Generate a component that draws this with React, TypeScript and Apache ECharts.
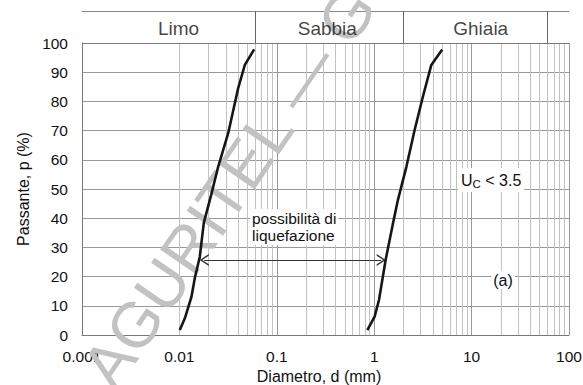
import React, { useEffect, useRef } from 'react';
import * as echarts from 'echarts';

const FONT = '"Liberation Sans", Arial, Helvetica, sans-serif';

// Axis ticks
const decades = [0.001, 0.01, 0.1, 1, 10, 100];
const xTickLabels = ['0.001', '0.01', '0.1', '1', '10', '100'];
const minorSteps = [2, 3, 4, 5, 6, 7, 8, 9];

// Grading curves: diameter (mm) vs passing (%)
const fineD = [0.0101, 0.0114, 0.0133, 0.0144, 0.0162, 0.0178, 0.0212, 0.025, 0.0317, 0.0401, 0.047, 0.0585];
const fineP = [1.7, 5.8, 13.1, 19.5, 26.8, 38.4, 48.0, 57.6, 69.1, 84.5, 92.5, 97.8];
const coarseD = [0.85, 1.01, 1.12, 1.31, 1.56, 1.75, 2.14, 2.6, 3.16, 3.86, 5.0];
const coarseP = [1.7, 6.3, 12.0, 25.7, 38.3, 46.2, 57.6, 70.2, 81.6, 92.5, 97.8];

// Soil-class band
const bandBounds = [0.002, 0.06, 2, 60];
const bandNames = ['Limo', 'Sabbia', 'Ghiaia'];
const bandLabelD = [0.0098, 0.33, 12.4];

// Arrow
const arrowD = [0.018, 1.18];
const arrowP = 25.7;

const noteLiq = 'possibilità di\nliquefazione';
const noteA = '(a)';
const watermark = 'AGURITEL — G';

const chevron = 'path://M6,0 L12,10 L10.2,10 L6,2.8 L1.8,10 L0,10 Z';

export default function App() {
  const ref = useRef<HTMLDivElement>(null);
  useEffect(() => {
    const chart = echarts.init(ref.current!, null, { renderer: 'svg' });
    const minorLines: any[] = [];
    decades.slice(0, -1).forEach((d) =>
      minorSteps.forEach((s) => minorLines.push({ xAxis: Number((d * s).toPrecision(3)) }))
    );
    const option: any = {
      animation: false,
      textStyle: { fontFamily: FONT },
      grid: [
        { left: 82, right: 14, top: 43, bottom: 50, containLabel: false, outerBoundsMode: 'none' },
        { left: 82, right: 14, top: 11, height: 32, containLabel: false, outerBoundsMode: 'none' },
      ],
      xAxis: [
        {
          gridIndex: 0,
          type: 'log',
          logBase: 10,
          min: 0.001,
          max: 100,
          name: 'Diametro, d (mm)',
          nameLocation: 'middle',
          nameGap: 33,
          nameTextStyle: { fontSize: 16, color: '#111', fontFamily: FONT, padding: [0, 13, 0, 0] },
          axisLine: { show: true, onZero: false, lineStyle: { color: '#777', width: 1 } },
          axisTick: { show: false },
          axisLabel: {
            margin: 13,
            fontSize: 15.5,
            color: '#111',
            fontFamily: FONT,
            formatter: (v: number) => xTickLabels[Math.round(Math.log10(v)) + 3],
          },
          splitLine: { show: true, lineStyle: { color: '#999', width: 1 } },
        },
        {
          gridIndex: 1,
          type: 'log',
          logBase: 10,
          min: 0.001,
          max: 100,
          position: 'top',
          axisLine: { show: true, onZero: false, lineStyle: { color: '#888', width: 1 } },
          axisTick: { show: false },
          axisLabel: { show: false },
          splitLine: { show: false },
        },
      ],
      yAxis: [
        {
          gridIndex: 0,
          type: 'value',
          min: 0,
          max: 100,
          interval: 10,
          name: 'Passante, p (%)',
          nameLocation: 'middle',
          nameGap: 47,
          nameTextStyle: { fontSize: 16, color: '#111', fontFamily: FONT, padding: [0, 0, 0, 0] },
          axisLine: { show: true, lineStyle: { color: '#777', width: 1 } },
          axisTick: { show: false },
          axisLabel: { margin: 14, fontSize: 15.5, color: '#111', fontFamily: FONT },
          splitLine: { show: true, lineStyle: { color: '#999', width: 1 } },
        },
        { gridIndex: 1, type: 'value', min: 0, max: 1, show: false },
      ],
      graphic: [
        {
          type: 'text',
          x: 229,
          y: 188,
          rotation: 0.97,
          z: 1,
          silent: true,
          style: {
            text: watermark,
            fontSize: 64,
            fontFamily: FONT,
            fill: '#c2c2c2',
            align: 'center',
            verticalAlign: 'middle',
          },
        },
        {
          type: 'text',
          x: 250,
          y: 209,
          z: 10,
          style: {
            text: noteLiq,
            fontSize: 15.5,
            lineHeight: 17,
            fontFamily: FONT,
            fill: '#111',
            backgroundColor: '#fff',
            padding: [1, 2, 1, 2],
          },
        },
        {
          type: 'text',
          x: 458,
          y: 168,
          z: 10,
          style: {
            text: '{u|U}{s|C}{u| < 3.5}',
            fontFamily: FONT,
            fill: '#111',
            backgroundColor: '#fff',
            padding: [2, 3, 2, 3],
            rich: {
              u: { fontSize: 16, fontFamily: FONT, fill: '#111', lineHeight: 18 },
              s: { fontSize: 11.5, fontFamily: FONT, fill: '#111', padding: [8, 0, 0, 0] },
            },
          },
        },
        {
          type: 'text',
          x: 503,
          y: 280,
          z: 10,
          style: {
            text: noteA,
            fontSize: 16,
            fontFamily: FONT,
            fill: '#111',
            align: 'center',
            verticalAlign: 'middle',
            backgroundColor: '#fff',
            padding: [1, 2, 1, 2],
          },
        },
      ],
      series: [
        {
          type: 'line',
          xAxisIndex: 0,
          yAxisIndex: 0,
          data: [],
          z: 1,
          silent: true,
          markLine: {
            silent: true,
            symbol: 'none',
            label: { show: false },
            lineStyle: { color: '#c2c2c2', width: 1, type: 'solid' },
            data: [
              ...minorLines,
              { yAxis: 100, lineStyle: { color: '#777', width: 1, type: 'solid' } },
            ],
          },
        },
        {
          type: 'line',
          xAxisIndex: 1,
          yAxisIndex: 1,
          data: [],
          z: 1,
          silent: true,
          markLine: {
            silent: true,
            symbol: 'none',
            label: { show: false },
            lineStyle: { color: '#666', width: 1, type: 'solid' },
            data: bandBounds.map((v) => ({ xAxis: v })),
          },
        },
        {
          type: 'scatter',
          xAxisIndex: 1,
          yAxisIndex: 1,
          symbolSize: 1,
          itemStyle: { color: 'rgba(0,0,0,0)' },
          silent: true,
          label: {
            show: true,
            position: 'inside',
            formatter: '{b}',
            fontSize: 19,
            color: '#111',
            fontFamily: FONT,
          },
          data: bandLabelD.map((d, i) => ({ name: bandNames[i], value: [d, 0.45] })),
        },
        {
          type: 'line',
          xAxisIndex: 0,
          yAxisIndex: 0,
          data: [],
          z: 4,
          silent: true,
          markLine: {
            silent: true,
            symbol: [chevron, chevron],
            symbolSize: [12, 9],
            label: { show: false },
            lineStyle: { color: '#333', width: 1, type: 'solid' },
            data: [[{ coord: [arrowD[0], arrowP] }, { coord: [arrowD[1], arrowP] }]],
          },
        },
        {
          type: 'line',
          xAxisIndex: 0,
          yAxisIndex: 0,
          z: 5,
          showSymbol: false,
          symbol: 'none',
          lineStyle: { color: '#161616', width: 2.6 },
          data: fineD.map((d, i) => [d, fineP[i]]),
        },
        {
          type: 'line',
          xAxisIndex: 0,
          yAxisIndex: 0,
          z: 5,
          showSymbol: false,
          symbol: 'none',
          lineStyle: { color: '#161616', width: 2.6 },
          data: coarseD.map((d, i) => [d, coarseP[i]]),
        },
      ],
    };
    chart.setOption(option);
    return () => chart.dispose();
  }, []);
  return (
    <div
      ref={ref}
      style={{ position: 'absolute', left: 0, top: 0, width: 583, height: 385, background: '#fff' }}
    />
  );
}
